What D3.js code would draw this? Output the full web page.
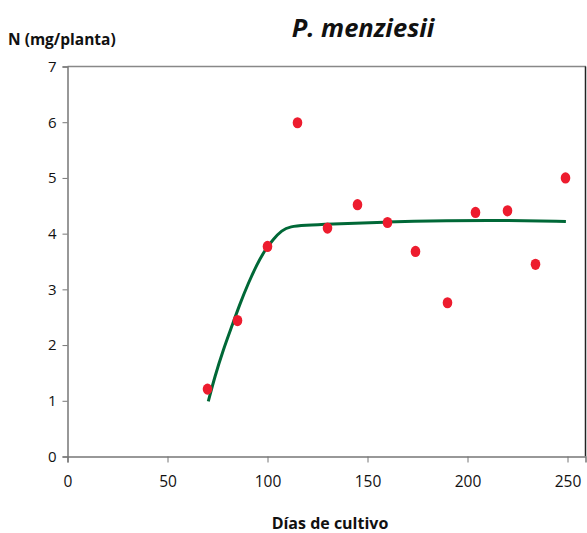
<!DOCTYPE html>
<html>
<head>
<meta charset="utf-8">
<script src="https://cdn.jsdelivr.net/npm/d3@7"></script>
<style>
  body { margin: 0; background: #fff; }
  text { font-family: "Open Sans", Lato, sans-serif; }
</style>
</head>
<body>
<div id="chart"></div>
<script>
// measured points: days of culture vs N (mg/plant)
const dias = [70, 85, 100, 115, 130, 145, 160, 174, 190, 204, 220, 234, 249];
const nitrogeno = [1.21, 2.44, 3.77, 5.99, 4.10, 4.52, 4.20, 3.68, 2.76, 4.38, 4.41, 3.45, 5.00];

// fitted curve
const curvaX = [70.4, 73.7, 77.9, 82.1, 86.3, 90.4, 94.6, 98.8, 102.9, 107.1, 111.3, 118.8, 129.6, 159.9, 189.3, 219.8, 249.2];
const curvaY = [0.99, 1.44, 1.92, 2.33, 2.75, 3.11, 3.44, 3.71, 3.90, 4.06, 4.13, 4.15, 4.17, 4.21, 4.235, 4.24, 4.22];

const xTicks = [0, 50, 100, 150, 200, 250];
const yTicks = [0, 1, 2, 3, 4, 5, 6, 7];

const width = 587,
  height = 533;
const mLeft = 67.5,
  mTop = 66.5,
  mRight = 586,
  mBottom = 456.5;

const svg = d3.select("#chart").append("svg").attr("width", width).attr("height", height);

const x = d3.scaleLinear().domain([0, 259]).range([mLeft, mRight - 0.5]);
const y = d3.scaleLinear().domain([0, 7]).range([mBottom, mTop]);

// frame: top grey, right dark
svg.append("line")
  .attr("x1", mLeft).attr("x2", mRight)
  .attr("y1", mTop).attr("y2", mTop)
  .attr("stroke", "#888").attr("stroke-width", 1.5);
svg.append("line")
  .attr("x1", mRight - 0.5).attr("x2", mRight - 0.5)
  .attr("y1", mTop).attr("y2", mBottom)
  .attr("stroke", "#222").attr("stroke-width", 1.5);

const yAxis = svg.append("g")
  .attr("transform", `translate(${mLeft},0)`)
  .call(d3.axisLeft(y).tickValues(yTicks).tickSize(5).tickPadding(6).tickFormat(d3.format("d")));

const xAxis = svg.append("g")
  .attr("transform", `translate(0,${mBottom})`)
  .call(d3.axisBottom(x).tickValues(xTicks).tickSize(6).tickPadding(13).tickFormat(d3.format("d")));

[xAxis, yAxis].forEach(ax => {
  ax.select(".domain").attr("stroke", "#777").attr("stroke-width", 1.5);
  ax.selectAll(".tick line").attr("stroke", "#777").attr("stroke-width", 1);
  ax.selectAll(".tick text").attr("fill", "#111").attr("font-size", 15);
});
yAxis.selectAll(".tick text").attr("font-family", "'Liberation Sans', Arial, sans-serif");
xAxis.selectAll(".tick text").attr("font-family", "Lato, sans-serif").attr("font-size", 15.5);

// fitted curve
const curva = curvaX.map((d, i) => [d, curvaY[i]]);
svg.append("path")
  .datum(curva)
  .attr("fill", "none")
  .attr("stroke", "#006837")
  .attr("stroke-width", 3)
  .attr("d", d3.line().x(d => x(d[0])).y(d => y(d[1])).curve(d3.curveBasis));

// points
svg.selectAll(".pt")
  .data(dias.map((d, i) => [d, nitrogeno[i]]))
  .join("ellipse")
  .attr("class", "pt")
  .attr("cx", d => x(d[0]))
  .attr("cy", d => y(d[1]))
  .attr("rx", 4.8)
  .attr("ry", 5.6)
  .attr("fill", "#ed1c2e");

// labels
svg.append("text")
  .attr("x", 363).attr("y", 37)
  .attr("text-anchor", "middle")
  .attr("font-size", 25.5)
  .attr("font-weight", "bold")
  .attr("font-style", "italic")
  .attr("fill", "#111")
  .text("P. menziesii");

svg.append("text")
  .attr("x", 8).attr("y", 45)
  .attr("font-size", 15.5)
  .attr("font-weight", "bold")
  .attr("fill", "#111")
  .text("N (mg/planta)");

svg.append("text")
  .attr("x", 330).attr("y", 529)
  .attr("text-anchor", "middle")
  .attr("font-size", 16)
  .attr("font-weight", "bold")
  .attr("fill", "#111")
  .text("Días de cultivo");
</script>
</body>
</html>
